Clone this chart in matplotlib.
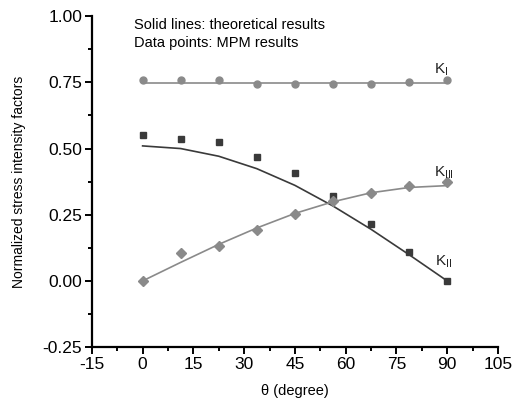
import matplotlib
matplotlib.use('Agg')
import matplotlib.pyplot as plt
from matplotlib.ticker import MultipleLocator, FormatStrFormatter

plt.rcParams['font.family'] = ['Liberation Sans', 'DejaVu Sans']
plt.rcParams['mathtext.fontset'] = 'custom'
plt.rcParams['mathtext.rm'] = 'Liberation Sans'
plt.rcParams['mathtext.it'] = 'Liberation Sans'
plt.rcParams['axes.unicode_minus'] = False

# data
theta = [0, 11.25, 22.5, 33.75, 45, 56.25, 67.5, 78.75, 90]
k1_mpm = [0.759, 0.759, 0.759, 0.742, 0.742, 0.743, 0.742, 0.750, 0.758]
k1_theory = [0.748, 0.748, 0.748, 0.748, 0.748, 0.748, 0.748, 0.748, 0.748]
k2_mpm = [0.551, 0.535, 0.524, 0.469, 0.407, 0.321, 0.214, 0.111, 0.0]
k2_theory = [0.510, 0.500, 0.471, 0.424, 0.361, 0.283, 0.195, 0.099, 0.0]
k3_mpm = [0.0, 0.107, 0.133, 0.194, 0.254, 0.302, 0.331, 0.360, 0.373]
k3_theory = [0.0, 0.070, 0.138, 0.200, 0.255, 0.299, 0.333, 0.353, 0.360]

light = '#8a8a8a'
dark = '#3a3a3a'

fig = plt.figure(figsize=(5.16, 4.05), dpi=100)
ax = fig.add_axes([0.178, 0.143, 0.787, 0.817])

ax.plot(theta, k1_theory, color=light, lw=1.2)
ax.plot(theta, k1_mpm, 'o', color=light, ms=5)
ax.plot(theta, k2_theory, color=dark, lw=1.2)
ax.plot(theta, k2_mpm, 's', color=dark, ms=4.6)
ax.plot(theta, k3_theory, color=light, lw=1.2)
ax.plot(theta, k3_mpm, 'D', color=light, ms=4.6)

ax.text(86, 0.785, r'K$_{\rm I}$', fontsize=11, color='#222222')
ax.text(86, 0.395, r'K$_{\rm III}$', fontsize=11, color='#222222')
ax.text(86.5, 0.058, r'K$_{\rm II}$', fontsize=11, color='#222222')

ax.text(-2.4, 0.965, 'Solid lines: theoretical results', fontsize=10.5, va='center')
ax.text(-2.4, 0.897, 'Data points: MPM results', fontsize=10.5, va='center')

ax.set_xlim(-15, 105)
ax.set_ylim(-0.25, 1.00)
ax.xaxis.set_major_locator(MultipleLocator(15))
ax.xaxis.set_minor_locator(MultipleLocator(7.5))
ax.yaxis.set_major_locator(MultipleLocator(0.25))
ax.yaxis.set_minor_locator(MultipleLocator(0.125))
ax.yaxis.set_major_formatter(FormatStrFormatter('%.2f'))

for s in ['top', 'right']:
    ax.spines[s].set_visible(False)
for s in ['left', 'bottom']:
    ax.spines[s].set_linewidth(1.6)
ax.tick_params(which='major', direction='out', length=5, width=1.4, labelsize=12.5, pad=2)
ax.tick_params(which='minor', direction='out', length=3, width=1.4)

ax.set_xlabel('θ (degree)', fontsize=10.5, labelpad=9)
ax.set_ylabel('Normalized stress intensity factors', fontsize=10, labelpad=12)

fig.savefig('out.png', dpi=100)
